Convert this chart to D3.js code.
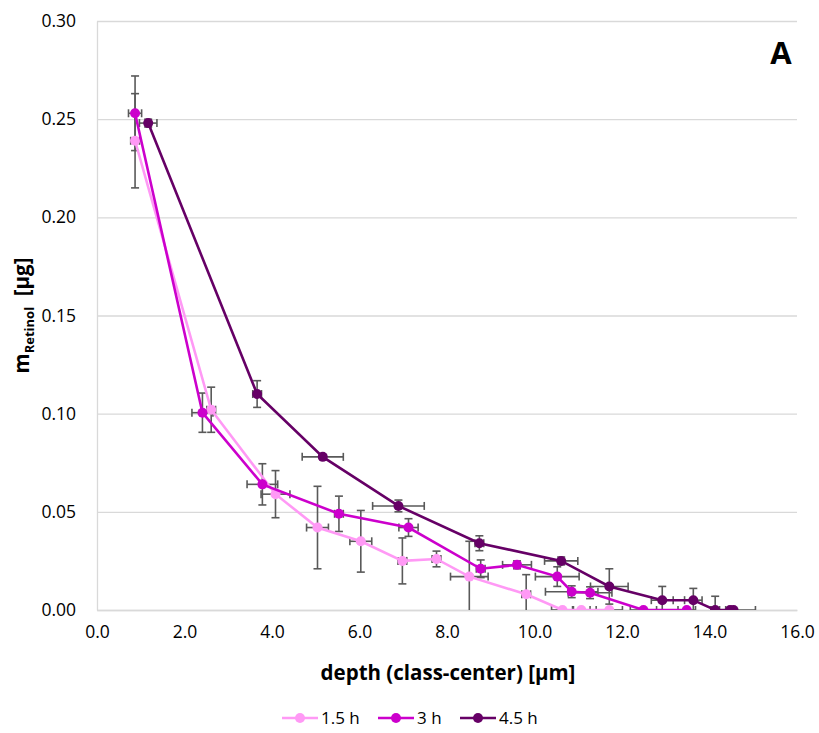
<!DOCTYPE html>
<html>
<head>
<meta charset="utf-8">
<script src="https://cdn.jsdelivr.net/npm/d3@7"></script>
<style>
  body { margin: 0; background: #fff; }
  text { font-family: "Open Sans", "Liberation Sans", sans-serif; }
</style>
</head>
<body>
<svg width="819" height="733"></svg>
<script>
// data
var seriesNames = ["1.5 h", "3 h", "4.5 h"];
var seriesColors = ["#ff99f5", "#cc00cc", "#660066"];

var x15 = [0.87, 2.61, 4.08, 5.04, 6.03, 6.98, 7.76, 8.51, 9.81, 10.64, 11.07, 11.71];
var y15 = [0.239, 0.102, 0.059, 0.042, 0.035, 0.025, 0.026, 0.017, 0.008, 0, 0, 0];
var yErr15 = [0.024, 0.0115, 0.012, 0.021, 0.0157, 0.0117, 0.004, 0.018, 0.010, 0, 0, 0];
var xErr15 = [0.1, 0.1, 0.33, 0.25, 0.25, 0.1, 0.1, 0.43, 0.1, 0.25, 0.2, 0.3];

var x30 = [0.87, 2.41, 3.78, 5.53, 7.12, 8.77, 9.6, 10.52, 10.85, 11.27, 12.49, 13.48];
var y30 = [0.253, 0.1005, 0.064, 0.049, 0.042, 0.021, 0.023, 0.017, 0.0093, 0.0088, 0, 0];
var yErr30 = [0.019, 0.01, 0.0105, 0.009, 0.0045, 0.0045, 0.002, 0.005, 0.003, 0.003, 0, 0];
var xErr30 = [0.15, 0.24, 0.35, 0.1, 0.22, 0.1, 0.33, 0.5, 0.6, 0.5, 0.3, 0.2];

var x45 = [1.17, 3.66, 5.16, 6.89, 8.74, 10.61, 11.71, 12.92, 13.63, 14.13, 14.47, 14.55];
var y45 = [0.248, 0.110, 0.078, 0.053, 0.034, 0.025, 0.012, 0.005, 0.005, 0, 0, 0];
var yErr45 = [0.002, 0.0068, 0.001, 0.003, 0.0038, 0.002, 0.009, 0.007, 0.006, 0.007, 0, 0];
var xErr45 = [0.2, 0.1, 0.47, 0.59, 0.1, 0.38, 0.43, 0.25, 0.2, 0.1, 0.1, 0.5];

var xTicks = [0, 2, 4, 6, 8, 10, 12, 14, 16];
var yTicks = [0, 0.05, 0.10, 0.15, 0.20, 0.25, 0.30];

function build(xs, ys, yes, xes) {
  return xs.map(function(d, i) { return {x: d, y: ys[i], ye: yes[i], xe: xes[i]}; });
}
var series = [
  build(x15, y15, yErr15, xErr15),
  build(x30, y30, yErr30, xErr30),
  build(x45, y45, yErr45, xErr45)
];

var svg = d3.select("svg");
var margin = {top: 21, left: 97, right: 22, bottom: 123};
var width = +svg.attr("width") - margin.left - margin.right;
var height = +svg.attr("height") - margin.top - margin.bottom;

var x = d3.scaleLinear().domain([0, 16]).range([0, width]);
var y = d3.scaleLinear().domain([0, 0.30]).range([height, 0]);

var g = svg.append("g")
    .attr("transform", "translate(" + margin.left + "," + margin.top + ")");

g.append("clipPath").attr("id", "clip")
  .append("rect").attr("x", -20).attr("y", -10).attr("width", width + 40).attr("height", height + 10);

// gridlines
g.append("g")
    .call(d3.axisLeft(y).tickValues(yTicks).tickSize(-width).tickFormat(""))
    .call(function(s) { s.select(".domain").remove(); })
    .selectAll("line").attr("stroke", "#d9d9d9").attr("stroke-width", 1.3);

// y axis
var yAxis = g.append("g")
    .call(d3.axisLeft(y).tickValues(yTicks).tickSize(0).tickPadding(21).tickFormat(d3.format(".2f")));
yAxis.select(".domain").attr("stroke", "#d9d9d9").attr("stroke-width", 1.3);
yAxis.selectAll("text").attr("font-size", "17.5px").attr("fill", "#000");

// x axis
var xAxis = g.append("g")
    .attr("transform", "translate(0," + height + ")")
    .call(d3.axisBottom(x).tickValues(xTicks).tickSize(0).tickPadding(16).tickFormat(d3.format(".1f")));
xAxis.select(".domain").attr("stroke", "#d9d9d9").attr("stroke-width", 1.3);
xAxis.selectAll("text").attr("font-size", "17.5px").attr("fill", "#000");

// axis titles
g.append("text")
    .attr("x", width / 2 + 1)
    .attr("y", height + 70)
    .attr("text-anchor", "middle")
    .attr("font-size", "20.5px")
    .attr("font-weight", "bold")
    .text("depth (class-center) [µm]");

var yl = svg.append("text")
    .attr("transform", "translate(29," + (margin.top + height / 2) + ") rotate(-90)")
    .attr("text-anchor", "middle")
    .attr("font-size", "20.5px")
    .attr("font-weight", "bold")
    .attr("xml:space", "preserve");
yl.append("tspan").text("m");
yl.append("tspan").attr("font-size", "13px").attr("dy", 5).text("Retinol");
yl.append("tspan").attr("dy", -5).text("\u00a0 [µg]");

// panel letter
svg.append("text")
    .attr("x", 781)
    .attr("y", 64)
    .attr("text-anchor", "middle")
    .attr("font-family", "Liberation Sans, Arial, sans-serif")
    .attr("font-size", "31px")
    .attr("font-weight", "bold")
    .text("A");

var plot = g.append("g").attr("clip-path", "url(#clip)");

// error bars (under the markers)
var cap = 4;
series.forEach(function(data, k) {
  var eb = plot.append("g").attr("stroke", "#595959").attr("stroke-width", 1.6).attr("fill", "none");
  data.forEach(function(d) {
    var cx = x(d.x), cy = y(d.y);
    if (d.ye > 0) {
      var y0 = y(d.y - d.ye), y1 = y(d.y + d.ye);
      eb.append("line").attr("x1", cx).attr("x2", cx).attr("y1", y0).attr("y2", y1);
      eb.append("line").attr("x1", cx - cap).attr("x2", cx + cap).attr("y1", y0).attr("y2", y0);
      eb.append("line").attr("x1", cx - cap).attr("x2", cx + cap).attr("y1", y1).attr("y2", y1);
    }
    if (d.xe > 0) {
      var x0 = x(d.x - d.xe), x1 = x(d.x + d.xe);
      eb.append("line").attr("x1", x0).attr("x2", x1).attr("y1", cy).attr("y2", cy);
      eb.append("line").attr("x1", x0).attr("x2", x0).attr("y1", cy - cap).attr("y2", cy + cap);
      eb.append("line").attr("x1", x1).attr("x2", x1).attr("y1", cy - cap).attr("y2", cy + cap);
    }
  });
});

var line = d3.line().x(function(d) { return x(d.x); }).y(function(d) { return y(d.y); });

series.forEach(function(data, k) {
  plot.append("path")
      .datum(data)
      .attr("fill", "none")
      .attr("stroke", seriesColors[k])
      .attr("stroke-width", 2.6)
      .attr("d", line);
  plot.selectAll(".dot" + k).data(data).enter()
    .append("circle")
      .attr("class", "dot" + k)
      .attr("cx", function(d) { return x(d.x); })
      .attr("cy", function(d) { return y(d.y); })
      .attr("r", 5)
      .attr("fill", seriesColors[k]);
});

// legend
var legendX = [282, 378, 460];
var legend = svg.append("g").attr("transform", "translate(0,718)");
seriesNames.forEach(function(name, k) {
  var lg = legend.append("g").attr("transform", "translate(" + legendX[k] + ",0)");
  lg.append("line").attr("x1", 0).attr("x2", 36).attr("y1", 0).attr("y2", 0)
      .attr("stroke", seriesColors[k]).attr("stroke-width", 2.6);
  lg.append("circle").attr("cx", 18).attr("cy", 0).attr("r", 5).attr("fill", seriesColors[k]);
  lg.append("text").attr("x", 39).attr("y", 6).attr("font-size", "17px").text(name);
});
</script>
</body>
</html>
